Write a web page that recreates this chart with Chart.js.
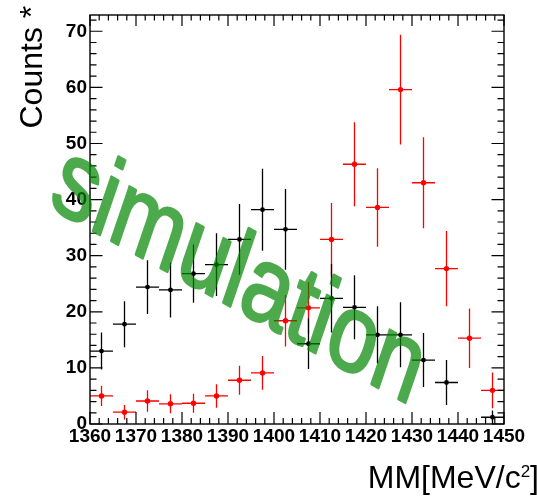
<!DOCTYPE html>
<html>
<head>
<meta charset="utf-8">
<script src="https://cdn.jsdelivr.net/npm/chart.js@4.4.1/dist/chart.umd.min.js"></script>
<style>
  html, body { margin: 0; padding: 0; background: #fff; }
  canvas { display: block; }
</style>
</head>
<body>
<canvas id="mmChart" width="537" height="496"></canvas>
<script>
// Bin centres of the missing-mass histogram (5 MeV bins)
const binCenters = [1362.5, 1367.5, 1372.5, 1377.5, 1382.5, 1387.5, 1392.5, 1397.5, 1402.5,
                    1407.5, 1412.5, 1417.5, 1422.5, 1427.5, 1432.5, 1437.5, 1442.5, 1447.5];
const binHalfWidth = 2.5;

// Black histogram (empty bin = null)
const blackCounts = [13.0, 17.8, 24.4, 23.9, 26.8, 28.4, 32.9, 38.2, 34.7,
                     14.3, 22.4, 20.8, 15.9, 15.9, 11.4, 7.4, null, 1.2];
const blackErrors = [3.3, 4.1, 4.8, 4.9, 5.2, 5.6, 6.3, 7.3, 7.2,
                     4.5, 6.1, 5.7, 5.1, 5.8, 4.8, 4.0, 0, 1.2];

// Red histogram
const redCounts = [5.0, 2.1, 4.1, 3.6, 3.7, 5.0, 7.8, 9.1, 18.4,
                   20.7, 32.9, 46.3, 38.6, 59.6, 43.0, 27.7, 15.3, 6.0];
const redErrors = [1.8, 1.3, 1.9, 1.7, 1.7, 2.1, 2.6, 3.0, 4.6,
                   4.6, 6.5, 7.5, 7.0, 9.8, 8.1, 6.7, 5.3, 3.2];

// Axis ranges and ticks
const xMin = 1360, xMax = 1450, xMajor = 10, xMinor = 2;
const yMin = 0, yMax = 72.9, yMajor = 10, yMinor = 2;

const FONT = "'Liberation Sans', Arial, Helvetica, sans-serif";

const toPoints = (counts) => binCenters.map((x, i) => ({ x: x, y: counts[i] }));

// ROOT-like frame, inward ticks, error bars and labels
const rootStyle = {
  id: 'rootStyle',
  beforeDatasetDraw(chart, args) {
    const ds = chart.data.datasets[args.index];
    const xs = chart.scales.x, ys = chart.scales.y;
    const ctx = chart.ctx;
    ctx.save();
    ctx.strokeStyle = ds.borderColor;
    ctx.lineWidth = 1.3;
    ctx.beginPath();
    ds.data.forEach((p, i) => {
      if (p.y === null) return;
      const e = ds.errors[i];
      const cx = xs.getPixelForValue(p.x);
      const cy = ys.getPixelForValue(p.y);
      ctx.moveTo(xs.getPixelForValue(p.x - binHalfWidth), cy);
      ctx.lineTo(xs.getPixelForValue(p.x + binHalfWidth), cy);
      ctx.moveTo(cx, ys.getPixelForValue(Math.min(p.y + e, yMax)));
      ctx.lineTo(cx, ys.getPixelForValue(Math.max(p.y - e, yMin)));
    });
    ctx.stroke();
    ctx.restore();
  },
  afterDraw(chart) {
    const ctx = chart.ctx;
    const a = chart.chartArea;
    const xs = chart.scales.x, ys = chart.scales.y;
    ctx.save();

    // frame
    ctx.strokeStyle = '#000';
    ctx.lineWidth = 1.4;
    ctx.strokeRect(a.left, a.top, a.right - a.left, a.bottom - a.top);

    // inward ticks on all four sides
    ctx.lineWidth = 1.2;
    ctx.beginPath();
    for (let v = xMin; v <= xMax + 1e-6; v += xMinor) {
      const px = xs.getPixelForValue(v);
      const len = (Math.abs(v % xMajor) < 1e-6) ? 12 : 6;
      ctx.moveTo(px, a.bottom); ctx.lineTo(px, a.bottom - len);
      ctx.moveTo(px, a.top); ctx.lineTo(px, a.top + len * 0.92);
    }
    for (let v = yMin; v <= yMax + 1e-6; v += yMinor) {
      const py = ys.getPixelForValue(v);
      const len = (Math.abs(v % yMajor) < 1e-6) ? 12.5 : 6.5;
      ctx.moveTo(a.left, py); ctx.lineTo(a.left + len, py);
      ctx.moveTo(a.right, py); ctx.lineTo(a.right - len, py);
    }
    ctx.stroke();

    // y title
    ctx.fillStyle = '#000';
    ctx.font = '32px ' + FONT;
    ctx.textAlign = 'left';
    ctx.textBaseline = 'alphabetic';
    ctx.save();
    ctx.translate(42, 128.5);
    ctx.rotate(-Math.PI / 2);
    ctx.fillText('Counts *', 0, 0);
    ctx.restore();

    // x title with superscript
    const big = '32px ' + FONT, small = '17px ' + FONT;
    ctx.font = big;
    const w1 = ctx.measureText('MM[MeV/c').width;
    const w3 = ctx.measureText(']').width;
    ctx.font = small;
    const w2 = ctx.measureText('2').width;
    let tx = 539 - (w1 + w2 + w3);
    const base = 488;
    ctx.font = big;
    ctx.fillText('MM[MeV/c', tx, base);
    tx += w1;
    ctx.font = small;
    ctx.fillText('2', tx, base - 11);
    tx += w2;
    ctx.font = big;
    ctx.fillText(']', tx, base);
    ctx.restore();

    // "simulation" watermark: drawn opaque off-screen, then laid over with alpha
    const off = document.createElement('canvas');
    off.width = chart.width;
    off.height = chart.height;
    const oc = off.getContext('2d');
    const phi = 23.4 * Math.PI / 180, k = 1.27, size = 88;
    oc.translate(238, 279);
    oc.transform(Math.cos(phi), k * Math.sin(phi), -Math.sin(phi), k * Math.cos(phi), 0, 0);
    oc.font = size + 'px ' + FONT;
    oc.textAlign = 'center';
    oc.fillStyle = 'rgb(0, 135, 0)';
    oc.strokeStyle = 'rgb(0, 135, 0)';
    oc.lineWidth = 2.2;
    oc.lineJoin = 'round';
    oc.fillText('simulation', 0, size * 0.26);
    oc.strokeText('simulation', 0, size * 0.26);

    ctx.save();
    ctx.globalAlpha = 0.7;
    ctx.drawImage(off, 0, 0);
    ctx.restore();
  }
};

const ctx = document.getElementById('mmChart').getContext('2d');
const tickFont = { family: FONT, size: 19, weight: 'bold' };

const myChart = new Chart(ctx, {
  type: 'scatter',
  data: {
    datasets: [
      {
        label: 'black',
        data: toPoints(blackCounts),
        errors: blackErrors,
        borderColor: '#000000',
        backgroundColor: '#000000',
        pointRadius: 2.4,
        pointBorderWidth: 0,
        showLine: false
      },
      {
        label: 'red',
        data: toPoints(redCounts),
        errors: redErrors,
        borderColor: '#ff0000',
        backgroundColor: '#ff0000',
        pointRadius: 2.7,
        pointBorderWidth: 0,
        showLine: false
      }
    ]
  },
  options: {
    responsive: false,
    animation: false,
    devicePixelRatio: 1,
    layout: { padding: { left: 0, top: 15, right: 33, bottom: 0 } },
    plugins: {
      legend: { display: false },
      tooltip: { enabled: false }
    },
    scales: {
      x: {
        type: 'linear',
        min: xMin,
        max: xMax,
        grid: { display: false, drawTicks: false },
        border: { display: false },
        ticks: {
          stepSize: xMajor,
          font: tickFont,
          color: '#000',
          padding: 1,
          maxRotation: 0,
          autoSkip: false,
          callback: (v) => String(v)
        },
        afterFit(scale) { scale.height = 72; }
      },
      y: {
        min: yMin,
        max: yMax,
        grid: { display: false, drawTicks: false },
        border: { display: false },
        ticks: {
          stepSize: yMajor,
          includeBounds: false,
          font: tickFont,
          color: '#000',
          padding: 3,
          callback: (v) => String(v)
        },
        afterFit(scale) { scale.width = 90; }
      }
    }
  },
  plugins: [rootStyle]
});
</script>
</body>
</html>
